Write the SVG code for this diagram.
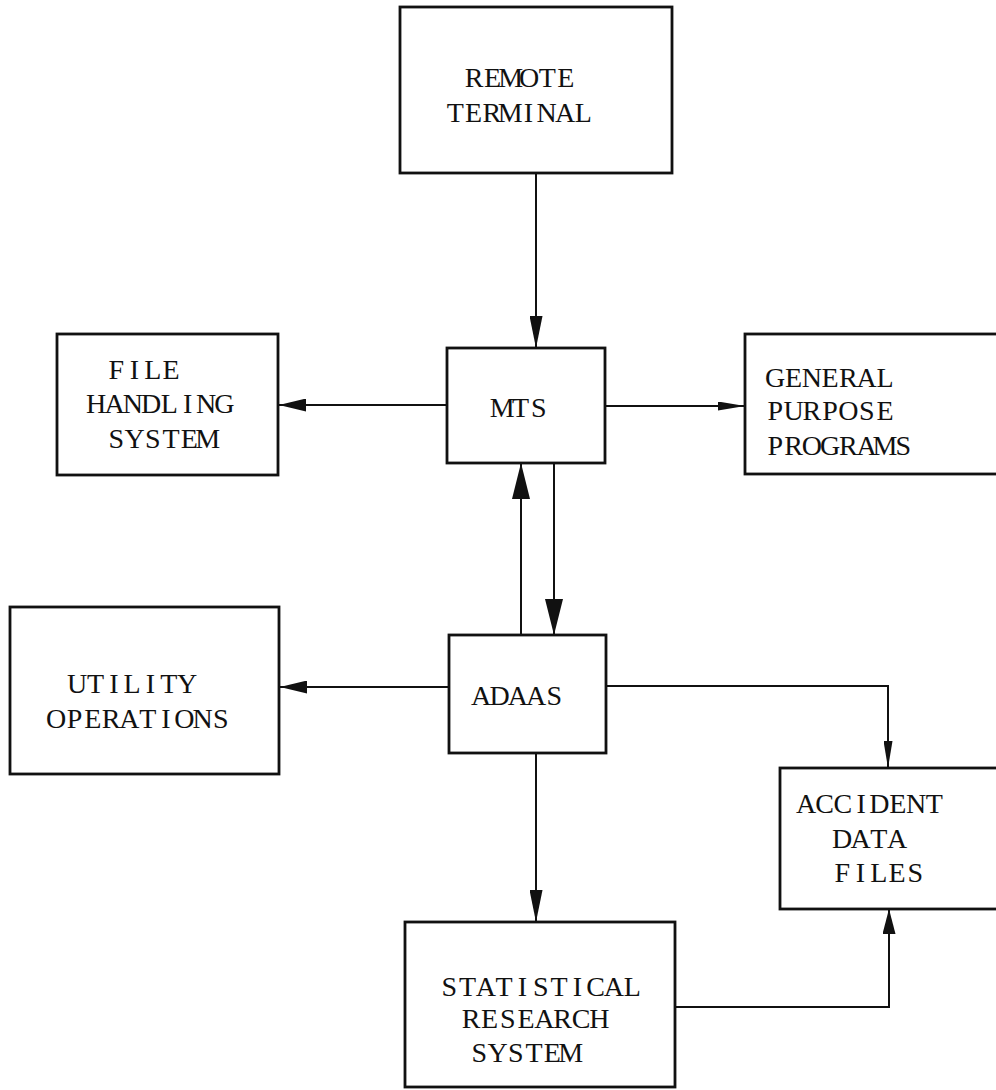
<svg xmlns="http://www.w3.org/2000/svg" width="996" height="1090" viewBox="0 0 996 1090">
<defs>
<style>
.box{fill:none;stroke:#111;stroke-width:2.8}
.ln{fill:none;stroke:#111;stroke-width:2}
.t{font-family:"Liberation Serif","Times New Roman",serif;font-size:28px;fill:#111;text-anchor:middle}
</style>
<marker id="ah-big" markerUnits="userSpaceOnUse" markerWidth="36" markerHeight="18" viewBox="0 0 36 18" refX="36" refY="9" orient="auto"><path d="M0,0 L36,9 L0,18 Z" fill="#111"/></marker>
<marker id="ah-mid" markerUnits="userSpaceOnUse" markerWidth="32" markerHeight="13" viewBox="0 0 32 13" refX="32" refY="6.5" orient="auto"><path d="M0,0 L32,6.5 L0,13 Z" fill="#111"/></marker>
<marker id="ah-side" markerUnits="userSpaceOnUse" markerWidth="27" markerHeight="13" viewBox="0 0 27 13" refX="27" refY="6.5" orient="auto"><path d="M0,0 L27,6.5 L0,13 Z" fill="#111"/></marker>
<marker id="ah-small" markerUnits="userSpaceOnUse" markerWidth="27" markerHeight="9" viewBox="0 0 27 9" refX="27" refY="4.5" orient="auto"><path d="M0,0 L27,4.5 L0,9 Z" fill="#111"/></marker>
<marker id="ah-sm2" markerUnits="userSpaceOnUse" markerWidth="25" markerHeight="13" viewBox="0 0 25 13" refX="25" refY="6.5" orient="auto"><path d="M0,0 L25,6.5 L0,13 Z" fill="#111"/></marker>
</defs>
<rect width="996" height="1090" fill="#fff"/>
<g id="connectors">
<path class="ln" d="M536,173 V348" marker-end="url(#ah-mid)"/>
<path class="ln" d="M447,405 H279" marker-end="url(#ah-side)"/>
<path class="ln" d="M605,406 H745" marker-end="url(#ah-small)"/>
<path class="ln" d="M521,635 V463" marker-end="url(#ah-big)"/>
<path class="ln" d="M554,463 V635" marker-end="url(#ah-big)"/>
<path class="ln" d="M449,687 H280" marker-end="url(#ah-side)"/>
<path class="ln" d="M606,686 H888 V768" marker-end="url(#ah-small)"/>
<path class="ln" d="M536,753 V922" marker-end="url(#ah-mid)"/>
<path class="ln" d="M675,1007 H889 V909" marker-end="url(#ah-sm2)"/>
</g>
<g id="remote-terminal">
<rect class="box" x="400" y="7" width="272" height="166"/>
<text class="t" x="474.2 492.5 510.8 529.1 547.4 565.7" y="87">REMOTE</text>
<text class="t" x="455.2 473.5 491.8 510.1 528.4 546.7 565 583.3" y="122">TERMINAL</text>
</g>
<g id="mts">
<rect class="box" x="447" y="348" width="158" height="115"/>
<text class="t" x="502.2 520.5 538.8" y="417">MTS</text>
</g>
<g id="file-handling">
<rect class="box" x="57" y="334" width="221" height="141"/>
<text class="t" x="116.2 134.5 152.8 171.1" y="379">FILE</text>
<text class="t" x="96.2 114.5 132.8 151.1 169.4 187.7 206 224.3" y="413">HANDLING</text>
<text class="t" x="116.2 134.5 152.8 171.1 189.4 207.7" y="448">SYSTEM</text>
</g>
<g id="general-purpose">
<rect class="box" x="745" y="334" width="270" height="140"/>
<text class="t" x="775.2 793.5 811.8 830.1 848.4 866.7 885" y="387">GENERAL</text>
<text class="t" x="775.2 793.5 811.8 830.1 848.4 866.7 885" y="420">PURPOSE</text>
<text class="t" x="775.2 793.5 811.8 830.1 848.4 866.7 885 903.3" y="455">PROGRAMS</text>
</g>
<g id="utility">
<rect class="box" x="10" y="607" width="269" height="167"/>
<text class="t" x="77.2 95.5 113.8 132.1 150.4 168.7 187" y="693">UTILITY</text>
<text class="t" x="56.2 74.5 92.8 111.1 129.4 147.7 166 184.3 202.6 220.9" y="728">OPERATIONS</text>
</g>
<g id="adaas">
<rect class="box" x="449" y="635" width="157" height="118"/>
<text class="t" x="481.2 499.5 517.8 536.1 554.4" y="705">ADAAS</text>
</g>
<g id="accident">
<rect class="box" x="780" y="768" width="236" height="141"/>
<text class="t" x="806.2 824.5 842.8 861.1 879.4 897.7 916 934.3" y="813">ACCIDENT</text>
<text class="t" x="842.2 860.5 878.8 897.1" y="848">DATA</text>
<text class="t" x="842.2 860.5 878.8 897.1 915.4" y="882">FILES</text>
</g>
<g id="statistical">
<rect class="box" x="405" y="922" width="270" height="165"/>
<text class="t" x="449.2 467.5 485.8 504.1 522.4 540.7 559 577.3 595.6 613.9 632.2" y="996">STATISTICAL</text>
<text class="t" x="471.2 489.5 507.8 526.1 544.4 562.7 581 599.3" y="1028">RESEARCH</text>
<text class="t" x="479.2 497.5 515.8 534.1 552.4 570.7" y="1062">SYSTEM</text>
</g>
</svg>
